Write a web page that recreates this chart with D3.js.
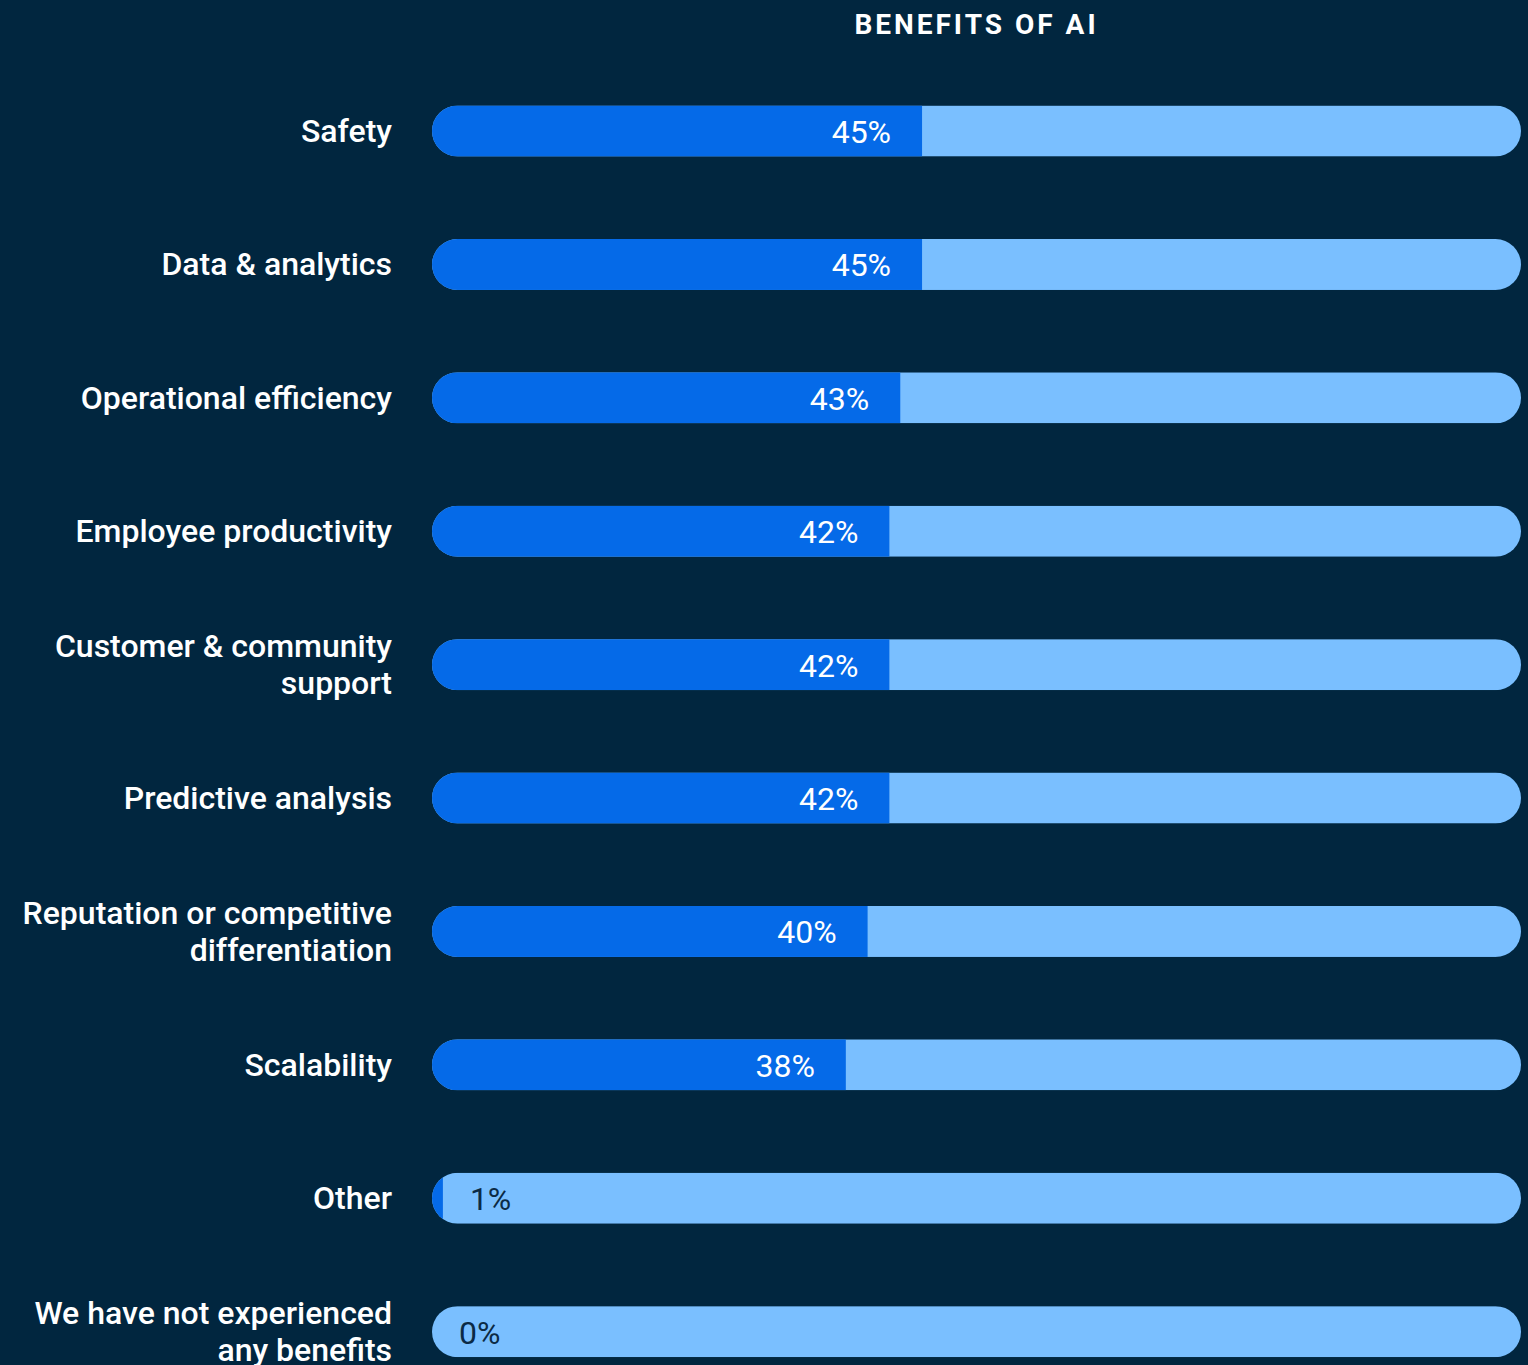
<!DOCTYPE html>
<html>
<head>
<meta charset="utf-8">
<script src="https://cdn.jsdelivr.net/npm/d3@7"></script>
<style>
  html, body { margin: 0; padding: 0; background: #01263f; }
  svg { display: block; }
</style>
</head>
<body>
<svg id="chart" width="1528" height="1365"></svg>
<script>
// Survey categories (line breaks marked with "\n") and share of respondents
const categories = [
  "Safety",
  "Data & analytics",
  "Operational efficiency",
  "Employee productivity",
  "Customer & community\nsupport",
  "Predictive analysis",
  "Reputation or competitive\ndifferentiation",
  "Scalability",
  "Other",
  "We have not experienced\nany benefits"
];
const values = [45, 45, 43, 42, 42, 42, 40, 38, 1, 0];
const title = "BENEFITS OF AI";

const W = 1528, H = 1365;
const left = 432, right = 1521;
const barH = 51;

const svg = d3.select("#chart");
const font = "Roboto, 'Noto Sans', sans-serif";

const x = d3.scaleLinear().domain([0, 100]).range([left, right]);
const y = d3.scaleBand()
  .domain(categories)
  .range([65.5, 1397.2])
  .paddingInner(0.617)
  .paddingOuter(0.3);

svg.append("rect").attr("width", W).attr("height", H).attr("fill", "#01263f");

svg.append("text")
  .attr("x", (left + right) / 2)
  .attr("y", 34)
  .attr("text-anchor", "middle")
  .attr("fill", "#ffffff")
  .attr("font-family", font)
  .attr("font-weight", 700)
  .attr("font-size", 28)
  .attr("letter-spacing", 3)
  .text(title);

const data = categories.map((c, i) => ({ c, v: values[i] }));

// clip each row to a pill shape so the filled part inherits the rounded end
const defs = svg.append("defs");
data.forEach((d, i) => {
  defs.append("clipPath").attr("id", "pill" + i)
    .append("rect")
    .attr("x", x(0)).attr("y", y(d.c) + y.bandwidth() / 2 - barH / 2)
    .attr("width", x(100) - x(0)).attr("height", barH)
    .attr("rx", barH / 2);
});

const rows = svg.selectAll("g.row").data(data).join("g").attr("class", "row");

rows.append("rect")
  .attr("clip-path", (d, i) => `url(#pill${i})`)
  .attr("x", x(0))
  .attr("y", d => y(d.c) + y.bandwidth() / 2 - barH / 2)
  .attr("width", x(100) - x(0))
  .attr("height", barH)
  .attr("fill", "#7abfff");

rows.append("rect")
  .attr("clip-path", (d, i) => `url(#pill${i})`)
  .attr("x", x(0))
  .attr("y", d => y(d.c) + y.bandwidth() / 2 - barH / 2)
  .attr("width", d => x(d.v) - x(0))
  .attr("height", barH)
  .attr("fill", "#056ae8");

// value labels: inside the dark fill, or just after it when the fill is tiny
rows.append("text")
  .attr("x", d => d.v >= 10 ? x(d.v) - 31 : x(d.v) + 27)
  .attr("y", d => y(d.c) + y.bandwidth() / 2 + 12)
  .attr("text-anchor", d => d.v >= 10 ? "end" : "start")
  .attr("fill", d => d.v >= 10 ? "#ffffff" : "#0b2a45")
  .attr("font-family", font)
  .attr("font-weight", 400)
  .attr("font-size", 32)
  .text(d => d.v + "%");

// category labels, right-aligned, possibly on two lines
rows.each(function (d) {
  const lines = d.c.split("\n");
  const cy = y(d.c) + y.bandwidth() / 2;
  const lh = 37;
  const t = d3.select(this).append("text")
    .attr("text-anchor", "end")
    .attr("fill", "#ffffff")
    .attr("font-family", font)
    .attr("font-weight", 500)
    .attr("font-size", 32);
  lines.forEach((ln, k) => {
    t.append("tspan")
      .attr("x", 392)
      .attr("y", cy + 11 + (k - (lines.length - 1) / 2) * lh)
      .text(ln);
  });
});
</script>
</body>
</html>
